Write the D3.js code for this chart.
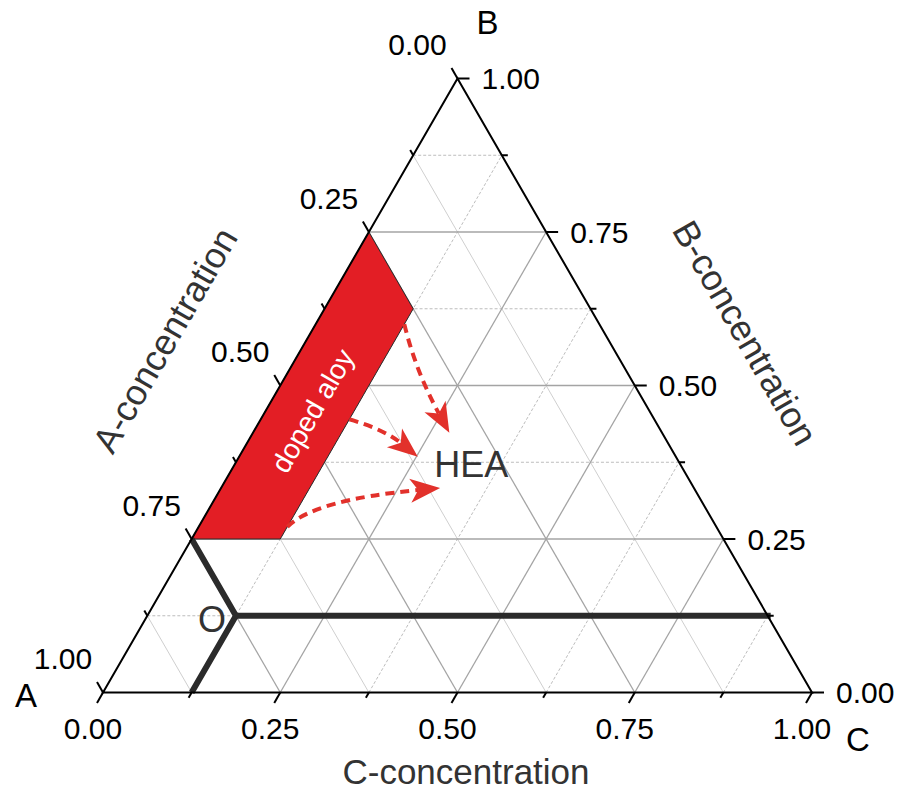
<!DOCTYPE html>
<html>
<head>
<meta charset="utf-8">
<script src="https://cdn.jsdelivr.net/npm/d3@7/dist/d3.min.js"></script>
<style>
  html, body { margin: 0; padding: 0; background: #fff; }
  svg { display: block; font-family: "Liberation Sans", Arial, Helvetica, sans-serif; }
</style>
</head>
<body>
<svg id="chart" width="901" height="792"></svg>
<script>
// ---- chart data (ternary points are [A, B, C]) ----
const majorLevels = [0, 0.25, 0.5, 0.75, 1];
const tickLabels = ["0.00", "0.25", "0.50", "0.75", "1.00"];
const minorLevels = [0.125, 0.375, 0.625, 0.875];
const vertexNames = ["A", "B", "C"];
const axisTitles = ["A-concentration", "B-concentration", "C-concentration"];

// doped-alloy composition band
const dopedRegion = [
  [0.25, 0.75, 0], [0.25, 0.625, 0.125], [0.625, 0.25, 0.125], [0.75, 0.25, 0]
];
const dopedLabel = "doped aloy";

// phase boundary through point O
const boundaryBend = [[0.75, 0.25, 0], [0.75, 0.125, 0.125], [0.875, 0, 0.125]];
const boundaryFlat = [[0.75, 0.125, 0.125], [0, 0.125, 0.875]];
const pointO = { name: "O", at: [0.75, 0.125, 0.125] };

// dashed arrows from the doped band toward HEA: [start, control, tip]
const arrows = [
  [[0.275, 0.6, 0.125], [0.297, 0.525, 0.178], [0.30, 0.423, 0.277]],
  [[0.43, 0.445, 0.125], [0.389, 0.428, 0.183], [0.364, 0.384, 0.252]],
  [[0.605, 0.27, 0.125], [0.544, 0.314, 0.142], [0.358, 0.333, 0.309]]
];
const heaLabel = { name: "HEA", at: [0.305, 0.351, 0.344] };

// ---- scales / projection ----
const svg = d3.select("#chart");
const x = d3.scaleLinear().domain([0, 1]).range([103, 812]);
const y = d3.scaleLinear().domain([0, 1]).range([692.5, 78.5]);
const P = ([a, b, c]) => [x(c + b / 2), y(b)];
const line = d3.line();

const allLevels = [...majorLevels.slice(1, 4), ...minorLevels];
const isMajor = v => majorLevels.includes(v);

// ---- grid ----
const grid = svg.append("g");
const gridLines = [];
allLevels.forEach(v => {
  gridLines.push({ kind: "A", major: isMajor(v), pts: [[v, 1 - v, 0], [v, 0, 1 - v]] });
  gridLines.push({ kind: "B", major: isMajor(v), pts: [[1 - v, v, 0], [0, v, 1 - v]] });
  gridLines.push({ kind: "C", major: isMajor(v), pts: [[1 - v, 0, v], [0, 1 - v, v]] });
});
// minor first so that major lines sit on top
gridLines.sort((p, q) => p.major - q.major);
grid.selectAll("path").data(gridLines).join("path")
  .attr("d", d => line(d.pts.map(P)))
  .attr("fill", "none")
  .attr("stroke", d => d.major ? "#a4a4a4" : (d.kind === "A" ? "#cfcfcf" : "#bdbdbd"))
  .attr("stroke-width", d => d.major ? 1.3 : 1)
  .attr("stroke-dasharray", d => (!d.major && d.kind !== "A") ? "3,2" : null);

// ---- doped-alloy band ----
svg.append("path")
  .attr("d", line(dopedRegion.map(P)) + "Z")
  .attr("fill", "#e31e25")
  .attr("stroke", "#2a2a2a")
  .attr("stroke-width", 1);

const bandCenter = P([0.4375, 0.4375, 0.125]);
svg.append("text")
  .attr("transform", `translate(${bandCenter[0] - 34},${bandCenter[1] - 13}) rotate(-60)`)
  .attr("text-anchor", "middle")
  .attr("dominant-baseline", "central")
  .attr("fill", "#fff")
  .attr("font-size", 28)
  .text(dopedLabel);

// ---- arrows ----
const arrowColor = "#e2312b";
const headLen = 30, headHalf = 12, notch = 8;
arrows.forEach(([s, q, e]) => {
  const S = P(s), Q = P(q), E = P(e);
  let ux = E[0] - Q[0], uy = E[1] - Q[1];
  const n = Math.hypot(ux, uy); ux /= n; uy /= n;
  const px = -uy, py = ux;
  const base = [E[0] - ux * headLen, E[1] - uy * headLen];
  const nt = [E[0] - ux * (headLen - notch), E[1] - uy * (headLen - notch)];
  const path = d3.path();
  path.moveTo(S[0], S[1]);
  path.quadraticCurveTo(Q[0], Q[1], nt[0], nt[1]);
  svg.append("path")
    .attr("d", path.toString())
    .attr("fill", "none")
    .attr("stroke", arrowColor)
    .attr("stroke-width", 4)
    .attr("stroke-dasharray", "9,6");
  svg.append("path")
    .attr("d", line([E,
      [base[0] + px * headHalf, base[1] + py * headHalf],
      nt,
      [base[0] - px * headHalf, base[1] - py * headHalf]]) + "Z")
    .attr("fill", arrowColor);
});

// ---- phase boundary ----
svg.append("path")
  .attr("d", line(boundaryBend.map(P)))
  .attr("fill", "none").attr("stroke", "#2b2b2b")
  .attr("stroke-width", 6).attr("stroke-linejoin", "miter");
svg.append("path")
  .attr("d", line(boundaryFlat.map(P)))
  .attr("fill", "none").attr("stroke", "#2b2b2b")
  .attr("stroke-width", 6).attr("stroke-linecap", "square");

// ---- triangle frame ----
const corners = [[1, 0, 0], [0, 1, 0], [0, 0, 1]];
svg.append("path")
  .attr("d", line(corners.map(P)) + "Z")
  .attr("fill", "none").attr("stroke", "#000").attr("stroke-width", 2)
  .attr("stroke-linejoin", "miter");

// ---- ticks & labels ----
const tickLevels = [...majorLevels, ...minorLevels];
const axes = [
  { pos: v => [v, 1 - v, 0], dir: [-0.5, -0.866], label: (pt) => [pt[0] - 40, pt[1] - 34], anchor: "middle" },
  { pos: v => [0, v, 1 - v], dir: [1, 0], label: (pt) => [pt[0] + 24, pt[1]], anchor: "start" },
  { pos: v => [1 - v, 0, v], dir: [-0.5, 0.866], label: (pt) => [pt[0] - 10, pt[1] + 36], anchor: "middle" }
];
axes.forEach(ax => {
  const g = svg.append("g");
  g.selectAll("line").data(tickLevels).join("line")
    .each(function (v) {
      const pt = P(ax.pos(v));
      const len = isMajor(v) ? 12 : 6;
      d3.select(this)
        .attr("x1", pt[0]).attr("y1", pt[1])
        .attr("x2", pt[0] + ax.dir[0] * len).attr("y2", pt[1] + ax.dir[1] * len);
    })
    .attr("stroke", "#000").attr("stroke-width", 2);
  g.selectAll("text").data(majorLevels).join("text")
    .each(function (v, i) {
      const lp = ax.label(P(ax.pos(v)));
      d3.select(this).attr("x", lp[0]).attr("y", lp[1]).text(tickLabels[i]);
    })
    .attr("text-anchor", ax.anchor)
    .attr("dominant-baseline", "central")
    .attr("font-size", 30)
    .attr("fill", "#000");
});

// ---- vertex names ----
const vertexOffsets = [[-77, 14], [30, -45], [46, 58]];
corners.forEach((c, i) => {
  const pt = P(c);
  svg.append("text")
    .attr("x", pt[0] + vertexOffsets[i][0]).attr("y", pt[1] + vertexOffsets[i][1])
    .attr("text-anchor", "middle")
    .attr("font-size", 33)
    .attr("fill", "#000")
    .text(vertexNames[i]);
});

// ---- axis titles ----
svg.append("text")
  .attr("transform", "translate(165,340) rotate(-60)")
  .attr("text-anchor", "middle").attr("dominant-baseline", "central")
  .attr("font-size", 36).attr("fill", "#333")
  .text(axisTitles[0]);
svg.append("text")
  .attr("transform", "translate(745,333) rotate(60)")
  .attr("text-anchor", "middle").attr("dominant-baseline", "central")
  .attr("font-size", 36).attr("fill", "#333")
  .text(axisTitles[1]);
svg.append("text")
  .attr("x", 466).attr("y", 784)
  .attr("text-anchor", "middle")
  .attr("font-size", 35).attr("fill", "#333")
  .text(axisTitles[2]);

// ---- annotations ----
const hp = P(heaLabel.at);
svg.append("text")
  .attr("x", hp[0]).attr("y", hp[1])
  .attr("text-anchor", "middle")
  .attr("font-size", 36).attr("fill", "#333")
  .text(heaLabel.name);

const op = P(pointO.at);
svg.append("text")
  .attr("x", op[0] - 24).attr("y", op[1] + 16)
  .attr("text-anchor", "middle")
  .attr("font-size", 36).attr("fill", "#333")
  .text(pointO.name);
</script>
</body>
</html>
